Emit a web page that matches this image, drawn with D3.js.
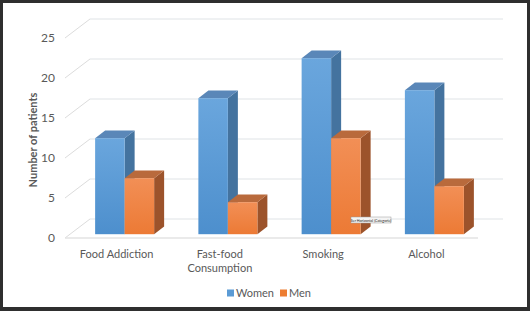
<!doctype html>
<html>
<head>
<meta charset="utf-8">
<script src="https://d3js.org/d3.v7.min.js"></script>
<style>
  body { margin: 0; background: #2f2f2f; }
  text { font-family: Lato, "Open Sans", sans-serif; fill: #595959; }
</style>
</head>
<body>
<div id="chart"></div>
<script>
// chart data
var categories = ["Food Addiction", "Fast-food Consumption", "Smoking", "Alcohol"];
var categoryLines = [["Food Addiction"], ["Fast-food", "Consumption"], ["Smoking"], ["Alcohol"]];
var women = [12, 17, 22, 18];
var men = [7, 4, 12, 6];
var seriesNames = ["Women", "Men"];
var yTicks = [0, 5, 10, 15, 20, 25];

var W = 530, H = 311;
var svg = d3.select("#chart").append("svg").attr("width", W).attr("height", H);

// white panel inside the dark frame
svg.append("rect").attr("x", 3).attr("y", 3).attr("width", 524).attr("height", 304).attr("fill", "#ffffff");

// 3d depth: full floor depth offset
var depthX = 25, depthY = -19;
function off(f) { return [depthX * f, depthY * f]; }

var x = d3.scaleBand().domain(categories).range([65, 478]);
var y = d3.scaleLinear().domain([0, 25]).range([238, 38]);

var defs = svg.append("defs");
function grad(id, c1, c2) {
  var g = defs.append("linearGradient").attr("id", id).attr("x1", 0).attr("y1", 0).attr("x2", 0).attr("y2", 1);
  g.append("stop").attr("offset", "0%").attr("stop-color", c1);
  g.append("stop").attr("offset", "100%").attr("stop-color", c2);
}
grad("gW", "#6aa6dd", "#4d8fcd");
grad("gM", "#f28f56", "#ec7a35");

// grid: back wall lines + left wall diagonals
var grid = svg.append("g");
yTicks.forEach(function(t) {
  var b = off(1);
  grid.append("line")
    .attr("x1", 65).attr("y1", y(t)).attr("x2", 65 + b[0]).attr("y2", y(t) + b[1])
    .attr("stroke", "#dcdcdc").attr("stroke-width", 1);
  grid.append("line")
    .attr("x1", 65 + b[0]).attr("y1", y(t) + b[1]).attr("x2", 478 + b[0]).attr("y2", y(t) + b[1])
    .attr("stroke", "#dfe3e6").attr("stroke-width", 1);
});
// front floor edge
svg.append("line").attr("x1", 65).attr("y1", y(0)).attr("x2", 478).attr("y2", y(0))
  .attr("stroke", "#e3e3e3").attr("stroke-width", 1.5);

// y tick labels
svg.append("g").selectAll("text").data(yTicks).enter().append("text")
  .attr("x", 55).attr("y", function(d) { return y(d); }).attr("dy", "0.35em")
  .attr("text-anchor", "end").style("font-size", "12px").text(function(d) { return d; });

// y axis title
svg.append("text")
  .attr("transform", "translate(37,140) rotate(-90)")
  .attr("text-anchor", "middle").style("font-size", "11px").style("font-weight", "bold")
  .text("Number of patients");

// bars
var barW = 29.5, front = 0.2, back = 0.6;
var colors = {
  Women: { front: "url(#gW)", side: "#44739f", top: "#5a87b8" },
  Men: { front: "url(#gM)", side: "#9c532b", top: "#b96a3c" }
};
var barData = [];
categories.forEach(function(c, i) {
  var cx = x(c) + x.bandwidth() / 2 + 8;
  barData.push({ s: "Women", v: women[i], x0: cx - barW - 5 });
  barData.push({ s: "Men", v: men[i], x0: cx - 5 });
});

var fo = off(front), bo = off(back);
var bars = svg.append("g").selectAll("g").data(barData).enter().append("g");
bars.each(function(d) {
  var g = d3.select(this);
  var xl = d.x0 + fo[0], xr = xl + barW;
  var yb = y(0) + fo[1], yt = y(d.v) + fo[1];
  var ddx = bo[0] - fo[0], ddy = bo[1] - fo[1];
  var c = colors[d.s];
  // side face
  g.append("path").attr("fill", c.side)
    .attr("d", "M" + xr + "," + yb + "L" + (xr + ddx) + "," + (yb + ddy) + "L" + (xr + ddx) + "," + (yt + ddy) + "L" + xr + "," + yt + "Z");
  // top face
  g.append("path").attr("fill", c.top)
    .attr("d", "M" + xl + "," + yt + "L" + xr + "," + yt + "L" + (xr + ddx) + "," + (yt + ddy) + "L" + (xl + ddx) + "," + (yt + ddy) + "Z");
  // front face
  g.append("rect").attr("x", xl).attr("y", yt).attr("width", barW).attr("height", yb - yt).attr("fill", c.front);
});

// category labels
var lab = svg.append("g").selectAll("text").data(categories).enter().append("text")
  .attr("x", function(d) { return x(d) + x.bandwidth() / 2; })
  .attr("y", 258).attr("text-anchor", "middle").style("font-size", "11px");
lab.each(function(d, i) {
  var t = d3.select(this);
  categoryLines[i].forEach(function(line, j) {
    t.append("tspan").attr("x", x(d) + x.bandwidth() / 2).attr("dy", j === 0 ? 0 : 14).text(line);
  });
});

// leftover tooltip from the original screenshot
svg.append("rect").attr("x", 351).attr("y", 217).attr("width", 40).attr("height", 6)
  .attr("fill", "#f4f4f4").attr("stroke", "#9a9a9a").attr("stroke-width", 0.5);
svg.append("text").attr("x", 371).attr("y", 221.5).attr("text-anchor", "middle")
  .style("font-size", "3.6px").style("fill", "#222").text("Ser Horizontal (Categorie)");

// legend
var legend = svg.append("g").selectAll("g").data(seriesNames).enter().append("g")
  .attr("transform", function(d, i) { return "translate(" + (i === 0 ? 227 : 280) + ",293)"; });
legend.append("rect").attr("x", 0).attr("y", -3.5).attr("width", 7).attr("height", 7)
  .attr("fill", function(d) { return d === "Women" ? "#5b9bd5" : "#ed7d31"; });
legend.append("text").attr("x", 9).attr("dy", "0.35em").style("font-size", "11px").text(function(d) { return d; });
</script>
</body>
</html>
